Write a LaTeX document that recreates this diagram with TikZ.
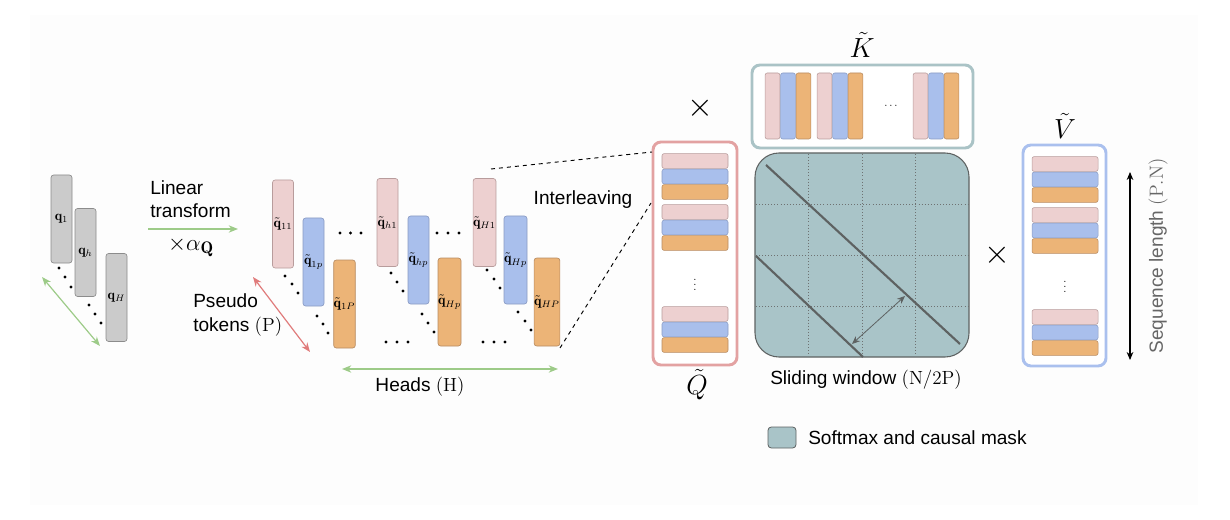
\documentclass[tikz,border=0pt]{standalone}
\usepackage{fontspec}
\newfontfamily\arial{Liberation Sans}
\usetikzlibrary{arrows.meta}
\definecolor{pinkF}{HTML}{EDD0D0}
\definecolor{pinkD}{HTML}{B89C9C}
\definecolor{blueF}{HTML}{A9BFEC}
\definecolor{blueD}{HTML}{8A9CC4}
\definecolor{oranF}{HTML}{ECB477}
\definecolor{oranD}{HTML}{B88C62}
\definecolor{grayF}{HTML}{CBCBCB}
\definecolor{grayD}{HTML}{8C8C8C}
\definecolor{greenA}{HTML}{9DCB88}
\definecolor{redA}{HTML}{E07B7B}
\definecolor{qbox}{HTML}{E3A2A2}
\definecolor{kbox}{HTML}{AAC3C6}
\definecolor{vbox}{HTML}{AAC0EE}
\definecolor{matF}{HTML}{A9C4C8}
\definecolor{matD}{HTML}{5E6262}
\definecolor{bgF}{HTML}{FDFDFD}
\begin{document}
\begin{tikzpicture}[x=0.75pt,y=-0.75pt,
  tall/.style={rectangle, rounded corners=2pt, minimum width=15.75pt, minimum height=66pt, inner sep=0pt, line width=0.5pt, font=\fontsize{10.5}{12}\selectfont},
  gbar/.style={tall, fill=grayF, draw=grayD},
  pbar/.style={tall, fill=pinkF, draw=pinkD},
  bbar/.style={tall, fill=blueF, draw=blueD},
  obar/.style={tall, fill=oranF, draw=oranD},
  hs/.style={rectangle, rounded corners=1.5pt, minimum width=49.5pt, minimum height=11pt, inner sep=0pt, line width=0.4pt},
  vs/.style={rectangle, rounded corners=1.5pt, minimum width=11pt, minimum height=49.5pt, inner sep=0pt, line width=0.4pt},
  pk/.style={fill=pinkF, draw=pinkD},
  bl/.style={fill=blueF, draw=blueD},
  og/.style={fill=oranF, draw=oranD},
  lbl/.style={font=\arial\fontsize{14.3}{17.5}\selectfont, inner sep=0pt},
  big/.style={font=\fontsize{21}{24}\selectfont, inner sep=0pt},
  times/.style={font=\fontsize{24}{26}\selectfont, inner sep=0pt},
  outbox/.style={rectangle, rounded corners=6pt, line width=2.2pt, fill=white, inner sep=0pt},
  dt/.style={fill=black},
  garrow/.style={greenA, line width=0.9pt, {Stealth[length=7pt,width=5.5pt]}-{Stealth[length=7pt,width=5.5pt]}}
]
\useasboundingbox (0,0) rectangle (1230,520);
\fill[bgF] (30,15) rectangle (1198,505);

% ---------- left: original queries ----------
\node[gbar] (q1) at (61.5,219) {$\mathbf{q}_1$};
\node[gbar] (qh) at (85.5,252.5) {$\mathbf{q}_h$};
\node[gbar] (qH) at (116.5,297.5) {$\mathbf{q}_H$};
\foreach \p in {(59,268),(65,277),(71,287),(89,305),(95,314),(101,323)} \fill[dt] \p circle (1.2pt);
\coordinate (gl1) at (42,277);
\coordinate (gl2) at (100,346);
\draw[garrow] (gl1) -- (gl2);

% ---------- linear transform ----------
\node[lbl, anchor=west, align=left] (lin) at (150,199) {Linear\\transform};
\coordinate (la1) at (148,229);
\coordinate (la2) at (238,229);
\draw[greenA, line width=0.9pt, -{Stealth[length=7pt,width=5.5pt]}] (la1) -- (la2);
\node[font=\fontsize{18}{20}\selectfont, inner sep=0pt] (alpha) at (191,247) {$\times\alpha_{\mathbf{Q}}$};

% ---------- pseudo tokens ----------
\node[pbar] (t11) at (283,224) {$\tilde{\mathbf{q}}_{11}$};
\node[bbar] (t1p) at (313.5,262) {$\tilde{\mathbf{q}}_{1p}$};
\node[obar] (t1P) at (344.5,304) {$\tilde{\mathbf{q}}_{1P}$};
\node[pbar] (th1) at (387.5,222.5) {$\tilde{\mathbf{q}}_{h1}$};
\node[bbar] (thp) at (418.5,260) {$\tilde{\mathbf{q}}_{hp}$};
\node[obar] (thP) at (449.5,302) {$\tilde{\mathbf{q}}_{Hp}$};
\node[pbar] (tH1) at (484.5,222.5) {$\tilde{\mathbf{q}}_{H1}$};
\node[bbar] (tHp) at (515.5,260) {$\tilde{\mathbf{q}}_{Hp}$};
\node[obar] (tHP) at (547,302) {$\tilde{\mathbf{q}}_{HP}$};
\foreach \p in {(340,233),(350.5,233),(361,233),(437,233),(448,233),(459,233),
  (386,342),(397,342),(408,342),(483,342),(494,342),(505,342),
  (285,276),(292,284),(298,293),(317,316),(323,324),(328,333),
  (391,273),(397,282),(403,291),(422,314),(428,323),(434,332),
  (487,270),(494,279),(500,288),(518,312),(525,321),(531,330)} \fill[dt] \p circle (1.2pt);

\coordinate (ra1) at (253,277);
\coordinate (ra2) at (310,352);
\draw[redA, line width=0.9pt, {Stealth[length=7pt,width=5.5pt]}-{Stealth[length=7pt,width=5.5pt]}] (ra1) -- (ra2);
\node[lbl, anchor=west, align=left] (pseudo) at (193,315) {Pseudo\\tokens $(\mathrm{P})$};

\coordinate (ha1) at (342,369);
\coordinate (ha2) at (558,369);
\draw[garrow] (ha1) -- (ha2);
\node[lbl] (heads) at (420,387) {Heads $(\mathrm{H})$};

\node[lbl] (inter) at (583,200) {Interleaving};

% ---------- Q box ----------
\node[outbox, draw=qbox, minimum width=63pt, minimum height=167.25pt] (Q) at (695,253.5) {};
\coordinate (d1a) at (491,169);
\coordinate (d1b) at (652,152);
\coordinate (d2a) at (560,348);
\coordinate (d2b) at (651,203);
\draw[dashed, line width=0.7pt] (d1a) -- (d1b);
\draw[dashed, line width=0.7pt] (d2a) -- (d2b);
\node[hs,pk] (qs1) at (695,161) {};
\node[hs,bl] (qs2) at (695,176.5) {};
\node[hs,og] (qs3) at (695,192) {};
\node[hs,pk] (qs4) at (695,212) {};
\node[hs,bl] (qs5) at (695,227.5) {};
\node[hs,og] (qs6) at (695,243) {};
\node[font=\fontsize{8}{9}\selectfont, inner sep=0pt] (qdots) at (695,281) {$\vdots$};
\node[hs,pk] (qs7) at (695,314) {};
\node[hs,bl] (qs8) at (695,329.5) {};
\node[hs,og] (qs9) at (695,345) {};
\node[big] (Qlab) at (697,385) {$\tilde{Q}$};
\node[times] (x1) at (700,108) {$\times$};

% ---------- K box ----------
\node[outbox, draw=kbox, minimum width=165.75pt, minimum height=62.25pt] (K) at (862.5,106.5) {};
\node[vs,pk] (ks1) at (772.5,106) {};
\node[vs,bl] (ks2) at (788,106) {};
\node[vs,og] (ks3) at (803.5,106) {};
\node[vs,pk] (ks4) at (824.5,106) {};
\node[vs,bl] (ks5) at (840,106) {};
\node[vs,og] (ks6) at (855.5,106) {};
\node[font=\fontsize{8}{9}\selectfont, inner sep=0pt] (kdots) at (891,106) {$\cdots$};
\node[vs,pk] (ks7) at (920.5,106) {};
\node[vs,bl] (ks8) at (936,106) {};
\node[vs,og] (ks9) at (951.5,106) {};
\node[big] (Klab) at (862,45) {$\tilde{K}$};

% ---------- attention matrix ----------
\node[rectangle, rounded corners=18pt, fill=matF, draw=matD, line width=0.8pt, minimum width=160.5pt, minimum height=153pt, inner sep=0pt] (M) at (862,255) {};
\foreach \xx in {808.5,862,915.5} \draw[matD!90, line width=0.6pt, dash pattern=on 0.7pt off 1.6pt] (\xx,154) -- (\xx,356);
\foreach \yy in {204,255,306} \draw[matD!90, line width=0.6pt, dash pattern=on 0.7pt off 1.6pt] (756,\yy) -- (968,\yy);
\coordinate (l1a) at (766,165);
\coordinate (l1b) at (960,344);
\coordinate (l2a) at (756,256);
\coordinate (l2b) at (863,357);
\draw[matD, line width=1.6pt] (l1a) -- (l1b);
\draw[matD, line width=1.6pt] (l2a) -- (l2b);
\coordinate (wa) at (852,344);
\coordinate (wb) at (905,296);
\draw[matD, line width=0.6pt, {Stealth[length=6pt,width=5pt]}-{Stealth[length=6pt,width=5pt]}] (wa) -- (wb);
\node[lbl] (slide) at (866,380) {Sliding window $(\mathrm{N/2P})$};

\node[times] (x2) at (997,255) {$\times$};

% ---------- V box ----------
\node[outbox, draw=vbox, minimum width=62.25pt, minimum height=165.75pt] (V) at (1064.5,255.5) {};
\node[hs,pk] (vs1) at (1065,164) {};
\node[hs,bl] (vs2) at (1065,179.5) {};
\node[hs,og] (vs3) at (1065,195) {};
\node[hs,pk] (vs4) at (1065,215) {};
\node[hs,bl] (vs5) at (1065,230.5) {};
\node[hs,og] (vs6) at (1065,246) {};
\node[font=\fontsize{8}{9}\selectfont, inner sep=0pt] (vdots) at (1065,283) {$\vdots$};
\node[hs,pk] (vs7) at (1065,317) {};
\node[hs,bl] (vs8) at (1065,332.5) {};
\node[hs,og] (vs9) at (1065,348) {};
\node[big] (Vlab) at (1065,126) {$\tilde{V}$};

\coordinate (sa) at (1130,172);
\coordinate (sb) at (1130,360);
\draw[black, line width=0.8pt, {Stealth[length=6pt,width=5pt]}-{Stealth[length=6pt,width=5pt]}] (sa) -- (sb);
\node[lbl, text=black!60, rotate=90] (seq) at (1158,256) {Sequence length $(\mathrm{P.N})$};

% ---------- legend ----------
\node[rectangle, rounded corners=2.5pt, fill=matF, draw=matD, line width=0.6pt, minimum width=21pt, minimum height=15.75pt, inner sep=0pt] (leg) at (782,437.5) {};
\node[lbl, anchor=west] (legt) at (808,438) {Softmax and causal mask};
\end{tikzpicture}
\end{document}
